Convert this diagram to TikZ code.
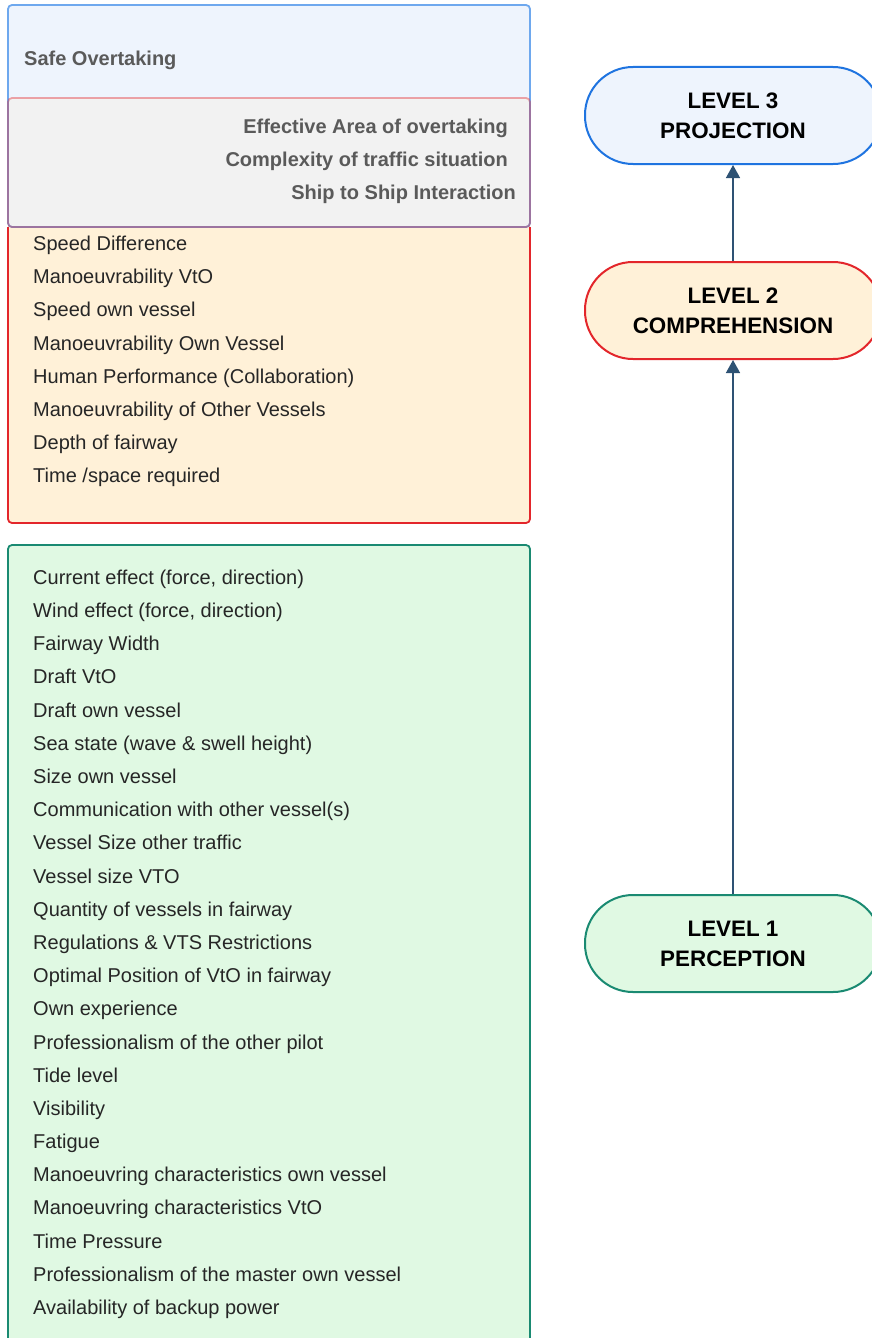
\documentclass[tikz,border=0pt]{standalone}
\usepackage{fontspec}
\setmainfont{Liberation Sans}
\usepackage{xcolor}
\usepackage{tikz}
\usetikzlibrary{arrows.meta,positioning,calc}

\definecolor{blueline}{HTML}{6EA8EE}
\definecolor{bluefill}{HTML}{EEF4FD}
\definecolor{redline}{HTML}{E3262B}
\definecolor{orangefill}{HTML}{FFF1D8}
\definecolor{greenline}{HTML}{1A8A72}
\definecolor{greenfill}{HTML}{E0F9E3}
\definecolor{grayfill}{HTML}{F2F2F2}
\definecolor{graytext}{HTML}{5A5A5A}
\definecolor{levelblue}{HTML}{1F74E0}
\definecolor{arrowcol}{HTML}{2E5274}

\tikzset{
	item/.style={anchor=west, inner sep=0pt, text height=14pt, text depth=4pt, yshift=-2pt, text=black!85, font=\fontsize{20}{24}\selectfont},
	grayitem/.style={anchor=east, inner sep=0pt, text height=14pt, text depth=4pt, yshift=-2pt, text=graytext, font=\bfseries\fontsize{20}{24}\selectfont},
	level/.style={draw, line width=2pt, rounded corners=48pt, minimum width=296pt, minimum height=97pt, align=center, font=\bfseries\fontsize{22.4}{30}\selectfont},
	up/.style={draw=arrowcol, line width=1.4pt, -{Triangle[length=13pt,width=14pt]}}
}

\begin{document}
\begin{tikzpicture}[x=1pt,y=-1pt]
		\useasboundingbox (0,0) rectangle (871,1338);

		% boxes
		\fill[bluefill, rounded corners=4pt] (8,5) rectangle (530,227);
		\fill[orangefill, rounded corners=4pt] (8,98) rectangle (530,523);
		\fill[grayfill, rounded corners=4pt] (8,98) rectangle (530,227);
		\draw[blueline, line width=1.8pt, rounded corners=4pt] (8,5) rectangle (530,227);
		\draw[redline, line width=1.8pt, rounded corners=4pt, draw opacity=0.4] (8,98) rectangle (530,227);
		\draw[redline, line width=1.8pt, rounded corners=4pt] (8,227) -- (8,523) -- (530,523) -- (530,227);
		\draw[greenline, line width=1.8pt, fill=greenfill, rounded corners=4pt] (8,1350) -- (8,545) -- (530,545) -- (530,1350);

		\node[grayitem, anchor=west] (safe) at (24,59) {Safe Overtaking};
		\node[grayitem] (area) at (508,126) {Effective Area of overtaking};
		\node[grayitem] (cmplx) at (508,159) {Complexity of traffic situation};
		\node[grayitem] (s2s) at (516,192) {Ship to Ship Interaction};

		% comprehension items
		\node[item] (c1) at (33,243) {Speed Difference};
		\node[item] (c2) at (33,276) {Manoeuvrability VtO};
		\node[item] (c3) at (33,309) {Speed own vessel};
		\node[item] (c4) at (33,343) {Manoeuvrability Own Vessel};
		\node[item] (c5) at (33,376) {Human Performance (Collaboration)};
		\node[item] (c6) at (33,409) {Manoeuvrability of Other Vessels};
		\node[item] (c7) at (33,442) {Depth of fairway};
		\node[item] (c8) at (33,475) {Time /space required};

		% perception items
		\node[item] (p1) at (33,577) {Current effect (force, direction)};
		\node[item] (p2) at (33,610) {Wind effect (force, direction)};
		\node[item] (p3) at (33,643) {Fairway Width};
		\node[item] (p4) at (33,676) {Draft VtO};
		\node[item] (p5) at (33,710) {Draft own vessel};
		\node[item] (p6) at (33,743) {Sea state (wave \& swell height)};
		\node[item] (p7) at (33,776) {Size own vessel};
		\node[item] (p8) at (33,809) {Communication with other vessel(s)};
		\node[item] (p9) at (33,842) {Vessel Size other traffic};
		\node[item] (p10) at (33,876) {Vessel size VTO};
		\node[item] (p11) at (33,909) {Quantity of vessels in fairway};
		\node[item] (p12) at (33,942) {Regulations \& VTS Restrictions};
		\node[item] (p13) at (33,975) {Optimal Position of VtO in fairway};
		\node[item] (p14) at (33,1008) {Own experience};
		\node[item] (p15) at (33,1042) {Professionalism of the other pilot};
		\node[item] (p16) at (33,1075) {Tide level};
		\node[item] (p17) at (33,1108) {Visibility};
		\node[item] (p18) at (33,1141) {Fatigue};
		\node[item] (p19) at (33,1174) {Manoeuvring characteristics own vessel};
		\node[item] (p20) at (33,1207) {Manoeuvring characteristics VtO};
		\node[item] (p21) at (33,1241) {Time Pressure};
		\node[item] (p22) at (33,1274) {Professionalism of the master own vessel};
		\node[item] (p23) at (33,1307) {Availability of backup power};

		% levels
		\node[level, draw=levelblue, fill=bluefill] (lvl3) at (733,115.5) {LEVEL 3\\PROJECTION};
		\node[level, draw=redline, fill=orangefill] (lvl2) at (733,310.5) {LEVEL 2\\COMPREHENSION};
		\node[level, draw=greenline, fill=greenfill] (lvl1) at (733,943.5) {LEVEL 1\\PERCEPTION};

		\draw[up] (lvl1) -- (lvl2);
		\draw[up] (lvl2) -- (lvl3);
	\end{tikzpicture}
\end{document}
